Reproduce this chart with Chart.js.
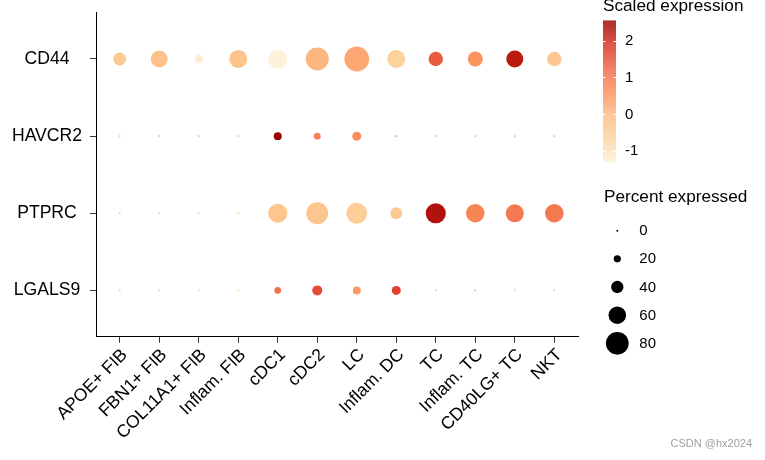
<!DOCTYPE html>
<html><head><meta charset="utf-8">
<script src="https://cdn.jsdelivr.net/npm/chart.js@4.4.1/dist/chart.umd.min.js"></script>
<style>html,body{margin:0;padding:0;background:#fff}#wrap{width:765px;height:460px;position:relative}</style>
</head><body><div id="wrap"><canvas id="c" width="765" height="460"></canvas></div>
<script>
// ---- data ----
const cellTypes = ['APOE+ FIB','FBN1+ FIB','COL11A1+ FIB','Inflam. FIB','cDC1','cDC2','LC','Inflam. DC','TC','Inflam. TC','CD40LG+ TC','NKT'];
const genes = ['LGALS9','PTPRC','HAVCR2','CD44']; // bottom to top
const pctCD44   = [42, 58, 23, 62, 66, 81, 88, 62, 48, 50, 58, 48];
const exprCD44  = [-0.4, -0.2, -1.2, -0.25, -1.3, 0.05, 0.25, -0.6, 1.4, 0.55, 2.2, -0.3];
const pctHAVCR2  = [0.5, 0.5, 0.5, 0.5, 23, 19, 27, 3, 0.5, 0.5, 0.5, 0.5];
const exprHAVCR2 = [-0.45, -0.45, -0.45, -0.45, 2.55, 0.8, 0.65, -0.3, -0.25, -0.25, -0.25, -0.25];
const pctPTPRC   = [0.5, 0.5, 0.5, 0.5, 66, 77, 73, 39, 70, 64, 62, 64];
const exprPTPRC  = [-0.55, -0.55, -0.55, -0.55, -0.3, -0.3, -0.5, -0.4, 2.3, 0.75, 0.95, 0.95];
const pctLGALS9  = [0.5, 0.5, 0.5, 0.5, 18, 31, 23, 27, 0.5, 0.5, 0.5, 0.5];
const exprLGALS9 = [-0.7, -0.7, -0.7, -0.7, 1.1, 1.55, 0.45, 1.7, -0.4, -0.05, -0.7, -0.5];
const colorTicks = [-1, 0, 1, 2];
const sizeBreaks = [0, 20, 40, 60, 80];

const pctByGene = {LGALS9: pctLGALS9, PTPRC: pctPTPRC, HAVCR2: pctHAVCR2, CD44: pctCD44};
const exprByGene = {LGALS9: exprLGALS9, PTPRC: exprPTPRC, HAVCR2: exprHAVCR2, CD44: exprCD44};
const allExpr = [].concat(exprCD44, exprHAVCR2, exprPTPRC, exprLGALS9);
const cmin = Math.min(...allExpr), cmax = Math.max(...allExpr);

const stops = ['#FEF0D9','#FDD49E','#FDBB84','#FC8D59','#EF6548','#D7301F','#990000'].map(h => [parseInt(h.slice(1,3),16), parseInt(h.slice(3,5),16), parseInt(h.slice(5,7),16)]);
function colorOf(v) {
  let t = (v - cmin) / (cmax - cmin); t = Math.max(0, Math.min(1, t));
  const s = t * (stops.length - 1); const i = Math.min(stops.length - 2, Math.floor(s)); const f = s - i;
  const a = stops[i], b = stops[i+1];
  return 'rgb(' + [0,1,2].map(k => Math.round(a[k] + (b[k]-a[k]) * f)).join(',') + ')';
}
function radiusOf(p) { return 1 + p * 0.1295; }

const points = [];
genes.forEach((g, j) => cellTypes.forEach((c, i) => points.push({x: i, y: j, pct: pctByGene[g][i], expr: exprByGene[g][i]})));

const FONT = "'Liberation Sans', Arial, sans-serif";

const legendPlugin = {
  id: 'legendPlugin',
  afterDraw(chart) {
    const ctx = chart.ctx;
    ctx.save();
    ctx.fillStyle = '#000';
    ctx.textBaseline = 'alphabetic';
    ctx.textAlign = 'left';
    ctx.font = '17.2px ' + FONT;
    ctx.fillText('Scaled expression', 603, 10.5);
    // colorbar
    const bx = 603, bw = 13;
    const unit = 36.67, y2 = 40.7;
    const py = v => y2 + (2 - v) * unit;
    const top = py(cmax), bot = py(cmin);
    for (let y = top; y < bot; y += 0.5) {
      const v = cmax - (y - top) / (bot - top) * (cmax - cmin);
      ctx.fillStyle = colorOf(v);
      ctx.fillRect(bx, y, bw, 0.6);
    }
    ctx.strokeStyle = '#fff'; ctx.lineWidth = 1;
    ctx.font = '15px ' + FONT; ctx.textBaseline = 'middle';
    colorTicks.forEach(t => {
      const y = Math.round(py(t)) + 0.5;
      ctx.beginPath(); ctx.moveTo(bx, y); ctx.lineTo(bx + 2.6, y); ctx.moveTo(bx + bw - 2.6, y); ctx.lineTo(bx + bw, y); ctx.stroke();
      ctx.fillStyle = '#000';
      ctx.fillText(String(t), 625, py(t) + 0.5);
    });
    // size legend
    ctx.textBaseline = 'alphabetic';
    ctx.font = '17.2px ' + FONT;
    ctx.fillText('Percent expressed', 604, 202);
    ctx.font = '15px ' + FONT; ctx.textBaseline = 'middle';
    sizeBreaks.forEach((b, k) => {
      const y = 230.7 + k * 28.15;
      ctx.beginPath(); ctx.arc(617.3, y, radiusOf(b), 0, Math.PI * 2); ctx.fillStyle = '#000'; ctx.fill();
      ctx.fillText(String(b), 639.3, y + 0.5);
    });
    // watermark
    ctx.textBaseline = 'alphabetic'; ctx.textAlign = 'right';
    ctx.fillStyle = '#a0a0a0'; ctx.font = '11px ' + FONT;
    ctx.fillText('CSDN @hx2024', 752, 447);
    ctx.restore();
  }
};

new Chart(document.getElementById('c'), {
  type: 'bubble',
  data: { datasets: [{
    data: points,
    backgroundColor: ctx => colorOf(ctx.raw.expr),
    radius: ctx => radiusOf(ctx.raw.pct),
    borderWidth: 0,
    hoverRadius: 0
  }]},
  options: {
    responsive: false, animation: false, devicePixelRatio: 1, events: [],
    layout: { padding: { left: 0, right: 187, top: 12.7, bottom: 0 } },
    plugins: { legend: { display: false }, tooltip: { enabled: false } },
    scales: {
      x: {
        type: 'linear', min: -0.6, max: cellTypes.length - 0.4,
        afterBuildTicks: s => { s.ticks = cellTypes.map((_, i) => ({value: i})); },
        afterFit: s => { s.height = 123.3; s.paddingLeft = 0; s.paddingRight = 0; },
        ticks: { autoSkip: false, minRotation: 45, maxRotation: 45, padding: 2, labelOffset: 5, color: '#000',
          font: { family: FONT, size: 17.6 }, callback: v => cellTypes[Math.round(v)] },
        grid: { drawOnChartArea: false, drawTicks: true, tickLength: 6, color: '#333', lineWidth: 1 },
        border: { display: true, color: '#000', width: 1 }
      },
      y: {
        type: 'linear', min: -0.6, max: genes.length - 0.4,
        afterBuildTicks: s => { s.ticks = genes.map((_, i) => ({value: i})); },
        afterFit: s => { s.width = 96; s.paddingTop = 0; s.paddingBottom = 0; },
        ticks: { crossAlign: 'center', padding: 8, color: '#000',
          font: { family: FONT, size: 17.6 }, callback: v => genes[Math.round(v)] },
        grid: { drawOnChartArea: false, drawTicks: true, tickLength: 6, color: '#333', lineWidth: 1 },
        border: { display: true, color: '#000', width: 1 }
      }
    }
  },
  plugins: [legendPlugin]
});
</script></body></html>
